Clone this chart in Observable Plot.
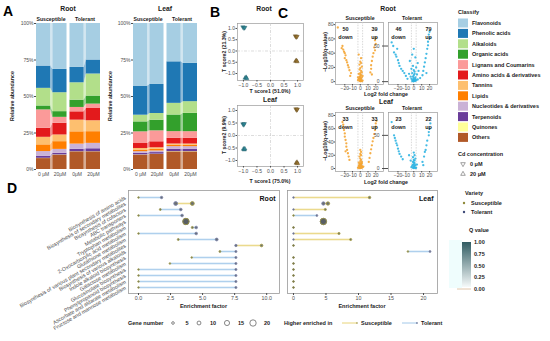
<!DOCTYPE html>
<html><head><meta charset="utf-8">
<script src="https://cdn.jsdelivr.net/npm/d3@7"></script>
<script src="https://cdn.jsdelivr.net/npm/@observablehq/plot@0.6"></script>
<style>
html,body{margin:0;padding:0;background:#fff;}
#fig{position:relative;width:550px;height:341px;overflow:hidden;background:#fff;}
</style></head><body><div id="fig"></div>
<script>
// ---------------- DATA ----------------
const classes = ["Flavonoids","Phenolic acids","Alkaloids","Organic acids","Lignans and Coumarins","Amino acids & derivatives","Tannins","Lipids","Nucleotides & derivatives","Terpenoids","Quinones","Others"];
const classColors = ["#a6cee3","#1f78b4","#b2df8a","#33a02c","#fb9a99","#e31a1c","#fdbf6f","#ff7f00","#cab2d6","#6a3d9a","#ffff99","#b15928"];
const barLabels = ["0 μM","20μM","0μM","20μM"];
const varieties = ["Susceptible","Tolerant"];
// relative abundance (%) per class, order as `classes`
const rootS0  = [29.2,15.3,12.1,2.7,12.6,6.2,5.2,4.6,3.3,1.3,0.2,7.5];
const rootS20 = [31.5,16.0,13.0,3.9,4.1,8.0,4.6,5.3,2.7,1.1,0.2,9.8];
const rootT0  = [30.1,10.5,11.9,5.0,3.0,5.7,8.0,8.4,3.6,1.6,0.1,12.1];
const rootT20 = [25.0,9.6,15.1,5.5,3.0,8.4,7.5,8.0,3.7,2.0,0.1,12.1];
const leafS0  = [42.9,19.9,4.6,6.8,8.0,3.4,1.1,1.1,1.1,1.1,0.2,9.8];
const leafS20 = [41.8,19.9,4.6,7.3,7.5,4.1,1.1,1.1,1.1,1.1,0.2,10.3];
const leafT0  = [26.3,28.5,8.0,11.4,4.6,3.9,0.9,0.9,1.8,1.6,0.2,12.1];
const leafT20 = [27.4,26.3,8.0,12.6,4.6,3.9,0.9,0.9,1.8,1.6,0.2,12.1];

// OPLS-DA scores: [variety, concentration, t1, t2]
const scoresRoot = [
 ["Tolerant","0 μM",-1.02,1.06],["Tolerant","0 μM",-0.98,1.02],["Tolerant","0 μM",-0.95,1.04],
 ["Tolerant","20 μM",-0.94,-1.2],["Tolerant","20 μM",-0.9,-1.17],["Tolerant","20 μM",-0.88,-1.22],
 ["Susceptible","0 μM",0.92,0.66],["Susceptible","0 μM",0.95,0.62],["Susceptible","0 μM",0.98,0.64],
 ["Susceptible","20 μM",0.93,-0.45],["Susceptible","20 μM",0.96,-0.42],["Susceptible","20 μM",0.98,-0.47]];
const scoresLeaf = [
 ["Tolerant","0 μM",-1.02,0.46],["Tolerant","0 μM",-0.99,0.43],["Tolerant","0 μM",-0.97,0.47],
 ["Tolerant","20 μM",-1.0,-0.54],["Tolerant","20 μM",-0.97,-0.57],["Tolerant","20 μM",-0.95,-0.53],
 ["Susceptible","0 μM",0.94,1.06],["Susceptible","0 μM",0.97,1.02],["Susceptible","0 μM",0.99,1.05],
 ["Susceptible","20 μM",0.95,-1.1],["Susceptible","20 μM",0.98,-1.07],["Susceptible","20 μM",1.0,-1.12]];
const scoreAxes = [["T score1 (51.0%)","T score2 (21.3%)"],["T score1 (75.0%)","T score2 (9.9%)"]];

// volcano points: [log2FC, -log10 q]
const volRootSus = [[-29,76],[-23,50],[-24,47],[-22,45],[-21,42],[-20,40],[-19,37],[-20,33],[-18,30],[-17,27],[-16,23],[-15,20],[-14,16],[-12,12],[-13,8],
 [20,61],[19,58],[20,53],[18,48],[19,44],[17,40],[16,35],[15,29],[14,23],[14,18],[13,13],[15,10],
 [-2,38],[1,33],[0,28],[1,26],[-1,24],[2,21],[0,19],[-1,17],[1,15],[2,13],[-2,11],[0,10],[1,9],[-1,7],[2,6],[0,5],[-2,4],[1,3],[0,2],[3,1.5],[-3,2],[-1,1],[2,0.6],[0,0.4],[1,4],[-1,5],[0,7],[3,8],[-3,6],[0,12],[1,1],[-1,3]];
const volRootTol = [[-28,55],[-26,50],[-21,46],[-25,41],[-23,38],[-22,35],[-20,30],[-19,26],[-18,22],[-16,18],[-14,15],[-12,12],[-10,8],
 [20,70],[19,66],[20,61],[18,56],[18,51],[17,46],[16,39],[15,33],[14,27],[13,21],[12,15],[11,9],[16,12],
 [0,46],[-2,38],[2,34],[-5,29],[5,26],[-1,22],[3,20],[-3,18],[0,16],[1,14],[-2,12],[4,10],[0,9],[-1,7],[2,6],[0,5],[-3,4],[1,3],[0,2],[2,1],[-2,1],[0,0.5],[3,2],[-1,3],[1,11],[-6,11],[6,15],[8,5],[-8,4],[5,3],[-4,7],[1,1],[-1,0.5],[2,4]];
const volLeafSus = [[-23,70],[-22,66],[-22,62],[-21,58],[-20,53],[-20,48],[-19,43],[-18,38],[-18,33],[-17,28],[-16,23],[-15,18],[-14,13],[-19,26],
 [21,72],[20,68],[20,63],[19,58],[18,52],[17,46],[16,41],[15,35],[14,29],[13,23],[12,16],[11,10],
 [0,28],[1,25],[0,22],[1,20],[-1,18],[0,15],[1,13],[2,10],[0,8],[-1,7],[1,6],[0,5],[2,4],[-2,4],[1,3],[0,2],[-1,2],[3,2],[1,1],[0,0.5],[2,1],[-3,1],[-1,0.5],[4,3],[0,11],[-2,9],[2,8],[1,7],[-1,5],[0,3],[2,2.5],[-2,1.5]];
const volLeafTol = [[-28,70],[-25,50],[-24,46],[-23,42],[-22,38],[-21,35],[-20,30],[-19,26],[-18,22],[-16,18],[-14,14],[-6,20],[-4,12],
 [21,68],[20,60],[19,55],[19,50],[17,42],[16,35],[15,28],[14,25],[13,18],[11,10],[12,5],
 [0,24],[1,20],[-1,17],[2,15],[0,13],[-1,10],[1,8],[0,6],[2,5],[-2,4],[0,3],[1,2],[-1,1],[0,0.5],[3,1],[2,0.5],[-3,2],[1,4],[0,9],[4,6],[-1,6],[1,12]];
const downUpRoot = [[50,39],[46,79]];
const downUpLeaf = [[33,33],[23,22]];
const foldThresholds = [-3,3];

// KEGG enrichment
const pathways = ["Biosynthesis of amino acids","Biosynthesis of secondary metabolites","Biosynthesis of cofactors","ABC transporters","Metabolic pathways","Tryptophan metabolism","2-Oxocarboxylic acid metabolism","Glutathione metabolism","Biosynthesis of various plant secondary metabolites","Biosynthesis of various alkaloids","Indole alkaloid biosynthesis","Galactose metabolism","Glucosinolate biosynthesis","Phenylpropanoid biosynthesis","Ascorbate and aldarate metabolism","Fructose and mannose metabolism"];
const rootSusEF = [0,4.2,1.7,0,3.7,4.2,0,3.1,9.6,6.35,4.15,2.45,0,0,0,0];
const rootTolEF = [1.8,2.9,3.3,3.4,3.7,4.5,4.5,6.1,7.6,7.6,7.6,7.6,7.6,7.6,7.6,7.6];
const rootSusN  = [1,10,2,1,20,3,1,2,5,2,1,1,1,1,1,1];
const rootTolN  = [4,10,5,5,20,5,5,6,4,3,3,3,3,3,3,3];
const leafSusEF = [11.7,5.3,4.9,0,4.6,0,7.0,8.8,0,17.6,0,0,0,0,0,0];
const leafTolEF = [0,4.6,0,3.6,4.6,0,0,0,0,21.0,0,0,0,0,0,0];
const leafSusN  = [4,8,3,1,20,1,3,3,1,1,1,1,1,1,1,1];
const leafTolN  = [1,8,1,2,20,1,1,1,1,2,1,1,1,1,1,1];
const geneLegend = [5,10,15,20];
const qTicks = ["1.00","0.75","0.50","0.25","0.00"];

// ---------------- STYLE ----------------
const FONT = "'Liberation Sans', Arial, sans-serif";
const fig = document.getElementById("fig");
const base = {fontFamily: FONT, fontSize: "5px", background: "transparent", color: "#4d4d4d", overflow: "visible"};
const colSusPt = "#9a7530", colTolPt = "#2c8796";
const colSusV = "#f4a534", colTolV = "#2fb4e2";
const colSusVar = "#8f8a3a", colTolVar = "#3e4a78";
const lineSus = "#e5cf6a", lineTol = "#97c2e6";
const frameCol = "#9a9a9a";
function place(svg, left, top) {
  svg.style.position = "absolute"; svg.style.left = left + "px"; svg.style.top = top + "px";
  fig.appendChild(svg);
}
const triDown = {draw(ctx, size) { const s3 = Math.sqrt(3); const y = -Math.sqrt(size / (s3 * 3));
  ctx.moveTo(0, -y * 2); ctx.lineTo(-s3 * y, y); ctx.lineTo(s3 * y, y); ctx.closePath(); }};

// ---------------- A ----------------
function abundance(bars) {
  const rows = [], conn = [], centers = [];
  bars.forEach((vals, b) => {
    const g = Math.floor(b / 2), s = b % 2;
    const x1 = g * 2.25 + s * 1.1, x2 = x1 + 0.95;
    centers.push((x1 + x2) / 2);
    const total = d3.sum(vals);
    let acc = 0;
    for (let c = classes.length - 1; c >= 0; c--) {
      const y1 = acc / total; acc += vals[c]; const y2 = acc / total;
      rows.push({g, s, x1, x2, cls: classes[c], y1, y2});
      conn.push({x: s === 0 ? x2 : x1, key: g + "|" + classes[c], cls: classes[c], y1, y2});
    }
  });
  const lab = new Map(centers.map((c, i) => [c, barLabels[i]]));
  return Plot.plot({
    width: 103, height: 180, marginLeft: 36, marginRight: 3, marginTop: 23, marginBottom: 11,
    style: base,
    x: {domain: [0, 4.3], axis: null}, y: {domain: [0, 1], axis: null},
    color: {domain: classes, range: classColors},
    marks: [
      Plot.area(conn, {x1: "x", y1: "y1", y2: "y2", z: "key", fill: "cls", fillOpacity: 0.5}),
      Plot.rect(rows, {x1: "x1", x2: "x2", y1: "y1", y2: "y2", fill: "cls"}),
      Plot.axisY({ticks: [0, .25, .5, .75, 1], tickFormat: d3.format(".0%"), tickSize: 2, tickPadding: 1, label: null, fontSize: 5}),
      Plot.axisX({ticks: centers, tickFormat: d => lab.get(d), tickSize: 0, tickPadding: 3, label: null, fontSize: 5})
    ]
  });
}
place(abundance([rootS0, rootS20, rootT0, rootT20]), 0, 0);
place(abundance([leafS0, leafS20, leafT0, leafT20]), 97, 0);

// ---------------- B ----------------
function scores(data, height, mt, mb, ydom) {
  const rows = data.map(([v, c, t1, t2]) => ({v, c, t1, t2}));
  const common = {x: "t1", y: "t2", r: 1.6, fill: d => d.v === "Susceptible" ? colSusPt : colTolPt,
    stroke: d => d.v === "Susceptible" ? "#5e4516" : "#1b5660", strokeWidth: 0.4, fillOpacity: 0.85};
  return Plot.plot({
    width: 92, height, marginLeft: 22, marginRight: 4, marginTop: mt, marginBottom: mb,
    style: base,
    x: {domain: [-1.22, 1.22]}, y: {domain: ydom},
    marks: [
      Plot.frame({stroke: frameCol, strokeWidth: 0.7}),
      Plot.ruleX([0], {stroke: "#c4c4c4", strokeWidth: 0.6, strokeDasharray: "3,1.5,1,1.5"}),
      Plot.ruleY([0], {stroke: "#c4c4c4", strokeWidth: 0.6, strokeDasharray: "3,1.5,1,1.5"}),
      Plot.dot(rows.filter(d => d.c === "0 μM"), {...common, symbol: triDown}),
      Plot.dot(rows.filter(d => d.c !== "0 μM"), {...common, symbol: "triangle"}),
      Plot.axisX({ticks: [-1, -0.5, 0, 0.5, 1], tickFormat: d3.format(".1f"), tickSize: 1.5, tickPadding: 1, label: null, fontSize: 5}),
      Plot.axisY({ticks: [-1, -0.5, 0, 0.5, 1], tickFormat: d3.format(".1f"), tickSize: 1.5, tickPadding: 1, label: null, fontSize: 5})
    ]
  });
}
place(scores(scoresRoot, 90, 23, 10, [-1.31, 1.22]), 215, 0);
place(scores(scoresLeaf, 76, 5, 10, [-1.24, 1.2]), 215, 100);

// ---------------- C ----------------
function volcano(pts, color, counts, {width, ml, mr, height, mt, mb, ydom, yaxis}) {
  return Plot.plot({
    width, height, marginLeft: ml, marginRight: mr, marginTop: mt, marginBottom: mb,
    style: base,
    x: {domain: [-32, 30]}, y: {domain: ydom},
    marks: [
      Plot.frame({stroke: frameCol, strokeWidth: 0.7}),
      Plot.ruleX(foldThresholds, {stroke: "#c8c8c8", strokeWidth: 0.7, strokeDasharray: "1.5,1.2"}),
      Plot.dot(pts, {x: d => d[0], y: d => d[1], r: 1.15, fill: color, fillOpacity: 0.9}),
      Plot.text([`${counts[0]}\ndown`], {frameAnchor: "top-left", dx: 10, dy: 2, lineAnchor: "top", textAnchor: "middle", fontSize: 5.5, fontWeight: "bold", fill: "#1a1a1a", lineHeight: 1.55}),
      Plot.text([`${counts[1]}\nup`], {frameAnchor: "top-right", dx: -9, dy: 2, lineAnchor: "top", textAnchor: "middle", fontSize: 5.5, fontWeight: "bold", fill: "#1a1a1a", lineHeight: 1.55}),
      Plot.axisX({ticks: [-20, -10, 0, 10, 20], tickSize: 1.5, tickPadding: 0.5, label: null, fontSize: 5}),
      yaxis ? Plot.axisY({ticks: [0, 20, 40, 60, 80], tickSize: 1.5, tickPadding: 0.5, label: null, fontSize: 5}) : null
    ]
  });
}
place(volcano(volRootSus, colSusV, downUpRoot[0], {width: 65, ml: 15, mr: 2, height: 92, mt: 22, mb: 8, ydom: [-4, 83], yaxis: true}), 320, 0);
place(volcano(volRootTol, colTolV, downUpRoot[1], {width: 53, ml: 2, mr: 2, height: 92, mt: 22, mb: 8, ydom: [-4, 83], yaxis: false}), 386, 0);
place(volcano(volLeafSus, colSusV, downUpLeaf[0], {width: 65, ml: 15, mr: 2, height: 79, mt: 12, mb: 8, ydom: [-4.5, 84.5], yaxis: true}), 320, 100);
place(volcano(volLeafTol, colTolV, downUpLeaf[1], {width: 53, ml: 2, mr: 2, height: 79, mt: 12, mb: 8, ydom: [-4.5, 84.5], yaxis: false}), 386, 100);

// ---------------- D ----------------
const rScale = {type: "linear", domain: [0, 20], range: [0.7, 3.2]};
function enrich(sEF, tEF, sN, tN, tag, {width, ml, mr, xdom, ticks, fmt, labels}) {
  const rows = pathways.map((p, i) => ({p, s: sEF[i], t: tEF[i], sn: sN[i], tn: tN[i]}));
  const diff = rows.filter(d => d.s !== d.t);
  const lc = d => d.s > d.t ? lineSus : lineTol;
  return Plot.plot({
    width, height: 150, marginLeft: ml, marginRight: mr, marginTop: 5, marginBottom: 42,
    style: base,
    x: {domain: xdom}, y: {domain: pathways, type: "point", padding: 0.5, axis: null},
    r: rScale,
    marks: [
      Plot.frame({stroke: frameCol, strokeWidth: 0.8}),
      Plot.link(diff, {x1: "s", x2: "t", y1: "p", y2: "p", stroke: lc, strokeWidth: 3, strokeOpacity: 0.22}),
      Plot.link(diff, {x1: "s", x2: "t", y1: "p", y2: "p", stroke: lc, strokeWidth: 0.7}),
      Plot.dot(rows, {x: "t", y: "p", r: "tn", fill: "#555b60", fillOpacity: 0.85, stroke: "#7c84ad", strokeWidth: 0.8}),
      Plot.dot(rows, {x: "s", y: "p", r: "sn", fill: "#555b60", fillOpacity: 0.85, stroke: "#a39a3c", strokeWidth: 0.8}),
      Plot.text([tag], {frameAnchor: "top-right", dx: -4, dy: 6, fontSize: 7, fontWeight: "bold", fill: "#111"}),
      labels ? Plot.text(pathways, {y: d => d, text: d => d, frameAnchor: "left", textAnchor: "end", rotate: -30, dx: -3, fontSize: 5.3, fill: "#4d4d4d"}) : null,
      Plot.axisX({ticks, tickFormat: fmt, tickSize: 2, tickPadding: 1, label: null, fontSize: 5.3})
    ]
  });
}
place(enrich(rootSusEF, rootTolEF, rootSusN, rootTolN, "Root", {width: 285, ml: 128, mr: 6, xdom: [-0.78, 11.0], ticks: [0, 2.5, 5, 7.5, 10], fmt: d3.format(".1f"), labels: true}), 0, 185);
place(enrich(leafSusEF, leafTolEF, leafSusN, leafTolN, "Leaf", {width: 160, ml: 5, mr: 5, xdom: [-0.92, 22.15], ticks: [0, 5, 10, 15, 20], fmt: d3.format("d"), labels: false}), 282, 185);

// ---------------- TEXT & LEGENDS ----------------
const ov = d3.create("svg").attr("width", 550).attr("height", 341)
  .style("position", "absolute").style("left", "0px").style("top", "0px").attr("font-family", FONT);
function T(x, y, s, {size = 5.5, weight = "bold", anchor = "middle", fill = "#1a1a1a", rot = 0, base = "central"} = {}) {
  const t = ov.append("text").attr("x", x).attr("y", y).attr("font-size", size).attr("font-weight", weight)
    .attr("text-anchor", anchor).attr("dominant-baseline", base).attr("fill", fill).text(s);
  if (rot) t.attr("transform", `rotate(${rot},${x},${y})`);
}
// panel letters
T(3, 16, "A", {size: 14, anchor: "start", base: "alphabetic", fill: "#000"});
T(210, 17, "B", {size: 14, anchor: "start", base: "alphabetic", fill: "#000"});
T(278, 18, "C", {size: 14, anchor: "start", base: "alphabetic", fill: "#000"});
T(7, 193, "D", {size: 14, anchor: "start", base: "alphabetic", fill: "#000"});
// A
T(68, 8.5, "Root", {size: 6.8}); T(165, 8.5, "Leaf", {size: 6.8});
T(51, 18.5, varieties[0], {size: 5.2}); T(85, 18.5, varieties[1], {size: 5.2});
T(148, 18.5, varieties[0], {size: 5.2}); T(182, 18.5, varieties[1], {size: 5.2});
T(12, 96, "Relative abundance", {size: 5.3, rot: -90}); T(110, 96, "Relative abundance", {size: 5.3, rot: -90});
// B
T(264, 8.5, "Root", {size: 6.8}); T(270, 99, "Leaf", {size: 6.8});
T(224, 51.5, scoreAxes[0][1], {size: 5.2, rot: -90}); T(270, 91, scoreAxes[0][0], {size: 5.2});
T(224, 135, scoreAxes[1][1], {size: 5.2, rot: -90}); T(270, 181, scoreAxes[1][0], {size: 5.2});
// C
T(388, 8.5, "Root", {size: 6.8}); T(386, 101, "Leaf", {size: 6.8});
T(360, 18, varieties[0], {size: 5.2}); T(412, 18, varieties[1], {size: 5.2});
T(360, 108, varieties[0], {size: 5.2}); T(412, 108, varieties[1], {size: 5.2});
T(325, 52, "−Log10(q-value)", {size: 5.2, rot: -90}); T(325, 141, "−Log10(q-value)", {size: 5.2, rot: -90});
T(386, 94, "Log2 fold change", {size: 5.3}); T(386, 182, "Log2 fold change", {size: 5.3});
// D
T(203.5, 306, "Enrichment factor", {size: 5.5}); T(362, 306, "Enrichment factor", {size: 5.5});
T(128, 323, "Gene number", {size: 5.5, anchor: "start"});
const rl = d3.scaleLinear(rScale.domain, rScale.range);
const gx = [173, 199, 227, 253];
geneLegend.forEach((n, i) => {
  ov.append("circle").attr("cx", gx[i]).attr("cy", 323).attr("r", rl(n)).attr("fill", "none").attr("stroke", "#555").attr("stroke-width", 0.7);
  T(gx[i] + 14, 323, String(n), {size: 5.5});
});
T(284, 323, "Higher enriched in", {size: 5.5, anchor: "start"});
[[342, lineSus, colSusVar, varieties[0], 361], [402, lineTol, colTolVar, varieties[1], 421]].forEach(([x, lc, dc, lab, tx]) => {
  ov.append("line").attr("x1", x).attr("x2", x + 15).attr("y1", 323).attr("y2", 323).attr("stroke", lc).attr("stroke-width", 0.9);
  ov.append("circle").attr("cx", x + 15).attr("cy", 323).attr("r", 0.8).attr("fill", dc);
  T(tx, 323, lab, {size: 5.5, anchor: "start"});
});
// Classify legend
T(458, 12, "Classify", {size: 5.5, anchor: "start"});
classes.forEach((c, i) => {
  const yc = 23 + i * 10.4;
  ov.append("rect").attr("x", 458).attr("y", yc - 4.5).attr("width", 10).attr("height", 9).attr("fill", classColors[i]);
  T(472, yc, c, {size: 5.5, anchor: "start"});
});
// Cd concentration
T(458, 154, "Cd concentration", {size: 5.5, anchor: "start"});
ov.append("path").attr("d", d3.symbol(triDown).size(9)()).attr("transform", "translate(463,164)").attr("fill", "none").attr("stroke", "#444").attr("stroke-width", 0.5);
ov.append("path").attr("d", d3.symbol(d3.symbolTriangle).size(9)()).attr("transform", "translate(463,174)").attr("fill", "none").attr("stroke", "#444").attr("stroke-width", 0.5);
T(470, 164, "0 μM", {size: 5.5, anchor: "start"}); T(470, 174, "20 μM", {size: 5.5, anchor: "start"});
// Variety
T(465, 193, "Variety", {size: 5.5, anchor: "start"});
ov.append("circle").attr("cx", 464).attr("cy", 203).attr("r", 1.2).attr("fill", colSusVar);
ov.append("circle").attr("cx", 464).attr("cy", 212).attr("r", 1.2).attr("fill", colTolVar);
T(471, 203, varieties[0], {size: 5.5, anchor: "start"}); T(471, 212, varieties[1], {size: 5.5, anchor: "start"});
// Q value colorbar
T(469, 230, "Q value", {size: 5.5, anchor: "start"});
const defs = ov.append("defs");
const lg = defs.append("linearGradient").attr("id", "qg").attr("x1", 0).attr("x2", 0).attr("y1", 0).attr("y2", 1);
lg.append("stop").attr("offset", "0%").attr("stop-color", "#2f5c62");
lg.append("stop").attr("offset", "50%").attr("stop-color", "#93abae");
lg.append("stop").attr("offset", "100%").attr("stop-color", "#f6fafa");
ov.append("rect").attr("x", 449).attr("y", 240).attr("width", 13).attr("height", 48).attr("fill", "#e4fbfb").attr("opacity", 0.6);
ov.append("rect").attr("x", 462).attr("y", 242).attr("width", 9).attr("height", 45).attr("fill", "url(#qg)");
ov.append("line").attr("x1", 457).attr("x2", 471).attr("y1", 289).attr("y2", 289).attr("stroke", "#d8b796").attr("stroke-width", 0.8);
qTicks.forEach((q, i) => T(474, 242 + i * 11.75, q, {size: 5.5, anchor: "start"}));
fig.appendChild(ov.node());
</script></body></html>
